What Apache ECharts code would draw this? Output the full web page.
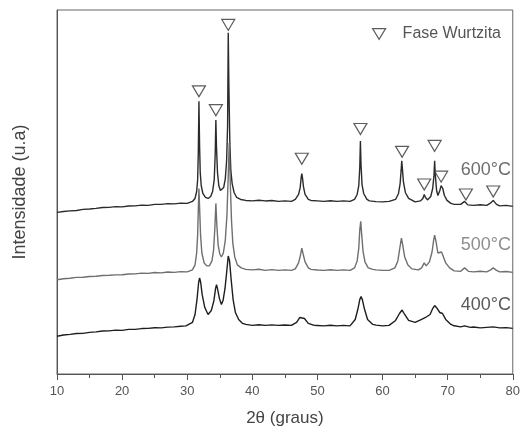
<!DOCTYPE html>
<html>
<head>
<meta charset="utf-8">
<script src="https://cdn.jsdelivr.net/npm/echarts@6/dist/echarts.min.js"></script>
<style>
  html, body { margin: 0; padding: 0; background: #fff; }
  #chart { width: 523px; height: 432px; }
</style>
</head>
<body>
<div id="chart"></div>
<script>
// difratogramas: [2θ, intensidade (u.a)]
const curve600 = [
  [10,163],[11,163.8],[12,164.5],[13,164.9],[14,166],[15,166.3],[16,167],[17,167.9],[18,168],[19,168.8],
  [20,168.5],[21,169.4],[22,169.5],[23,170.3],[24,170],[25,171],[26,171],[27,171.8],[28,171.5],[29,172.3],
  [30,172],[30.8,174],[31.2,177],[31.45,184],[31.6,196],[31.7,222],[31.8,275],[31.9,230],[32.0,203],
  [32.15,190],[32.4,182],[32.8,178],[33.2,177],[33.6,179],[33.9,184],[34.15,196],[34.3,222],[34.4,256],
  [34.5,228],[34.65,203],[34.85,190],[35.1,185],[35.35,184],[35.6,188],[35.85,197],[36.05,215],[36.2,250],
  [36.3,344],[36.4,290],[36.55,232],[36.7,205],[36.9,192],[37.2,183],[37.6,178],[38.2,176],[39,175],
  [40,174.5],[41,175.2],[42,174.5],[43,174.9],[44,174],[45,174.6],[46,174],[46.6,176],[47.1,181],[47.35,188],
  [47.5,198],[47.6,202],[47.7,198],[47.85,189],[48.1,181],[48.6,176],[49,175],[50,174.6],[51,174],[52,174.7],
  [53,174],[54,174.5],[55,174],[55.7,176],[56.1,181],[56.35,190],[56.5,208],[56.6,235],[56.7,210],[56.85,191],
  [57.1,182],[57.6,176],[58,174.5],[59,173.8],[60,173.5],[61,174],[62,176],[62.45,182],[62.7,192],[62.85,205],
  [62.95,215],[63.05,207],[63.2,194],[63.5,183],[64,177],[65,173.5],[65.8,174.5],[66.2,177],[66.4,181],
  [66.6,178],[66.9,175.5],[67.4,179],[67.7,187],[67.9,200],[68.0,215],[68.1,201],[68.3,185],[68.5,180],
  [68.8,185],[69.0,190],[69.1,191],[69.25,187],[69.5,180],[69.9,175],[70.5,172],[71,171],[72,171],
  [72.6,174],[73.1,170.5],[74,170],[75,170.6],[76,170],[76.5,172],[77.0,175],[77.5,171],[78,169.5],
  [79,170],[80,169]
];
const curve500 = [
  [10,95],[11,96],[12,96.5],[13,97.4],[14,97.5],[15,98.3],[16,98.5],[17,99.3],[18,99.5],[19,99.9],
  [20,100],[21,100.8],[22,101],[23,101.7],[24,101.5],[25,102.3],[26,102],[27,102.8],[28,102.5],[29,103.2],
  [30,103],[30.8,105],[31.2,110],[31.45,122],[31.6,140],[31.7,165],[31.8,187],[31.9,168],[32.05,140],
  [32.25,122],[32.6,112],[33.0,109],[33.4,109],[33.8,114],[34.05,125],[34.25,148],[34.4,172],[34.55,150],
  [34.75,130],[35.0,121],[35.25,118],[35.55,122],[35.85,135],[36.1,160],[36.3,200],[36.45,233],[36.6,195],
  [36.8,155],[37.0,132],[37.3,118],[37.7,110],[38.3,107],[39,105.5],[40,105],[41,105.6],[42,104.5],[43,105.2],
  [44,104.5],[45,105],[46,104.5],[46.6,106],[47.1,112],[47.4,120],[47.6,127],[47.8,121],[48.1,113],[48.6,107],
  [49,105.5],[50,104.9],[51,104.5],[52,105.1],[53,104.5],[54,105],[55,104.5],[55.7,107],[56.1,114],[56.35,127],
  [56.5,145],[56.65,154],[56.8,140],[57.0,124],[57.3,113],[57.8,107],[58.5,105.5],[59,105],[60,104.5],[61,104.5],
  [61.9,107],[62.35,114],[62.65,127],[62.9,137],[63.1,130],[63.4,118],[63.9,110],[64.5,106],[65.5,105],
  [66.0,107],[66.4,112],[66.7,109],[67.2,113],[67.6,123],[67.85,135],[68.0,140],[68.2,134],[68.5,122],
  [68.8,121],[69.05,123],[69.3,119],[69.7,112],[70.3,107],[71,104],[72,103.5],[72.6,107],[73.2,103.5],
  [74,103],[75,103.6],[76,103],[76.6,105],[77.0,107],[77.5,104.5],[78,103],[79,103.4],[80,102.5]
];
const curve400 = [
  [10,38],[11,39.3],[12,40],[13,40.8],[14,41],[15,42],[16,42.5],[17,43.4],[18,43.5],[19,44.2],
  [20,44],[21,45],[22,45],[23,45.8],[24,46],[25,46.7],[26,46.5],[27,47.3],[28,47.5],[29,48.2],
  [29.8,48.5],[30.8,52],[31.2,60],[31.5,75],[31.75,92],[31.9,97],[32.05,93],[32.3,80],[32.7,67],[33.2,60],
  [33.7,64],[34.1,74],[34.35,86],[34.5,90],[34.65,86],[34.95,76],[35.25,70],[35.5,74],[35.8,86],[36.05,102],
  [36.3,119],[36.5,114],[36.75,95],[37.05,75],[37.4,62],[37.9,55],[38.5,51],[39,50],[40,49],[41,49.6],
  [42,49],[43,49.5],[44,49],[45,49.4],[46,49],[46.8,52],[47.3,57],[47.6,59],[48.0,56],[48.6,51],[49.5,49],
  [50,48.9],[51,48.5],[52,49.1],[53,48.5],[54,49],[55,48.5],[55.8,55],[56.2,65],[56.5,75],[56.7,78],
  [56.9,75],[57.2,66],[57.7,55],[58.5,50],[59,49.3],[60,48.5],[61,49],[62,54],[62.6,61],[63.0,64.5],
  [63.4,60],[64,54],[65,52],[66,55],[66.6,57],[67.3,60],[67.7,66],[68.0,69],[68.4,66],[68.8,62],[69.2,61],
  [69.7,55],[70.5,50],[71,48.6],[72,47.5],[72.6,48.5],[73.5,47],[74,47.4],[75,46.5],[76,47],[77,47.5],
  [78,46.5],[79,46.8],[80,46]
];
// marcadores da fase wurtzita
const wurtzita = [
  [31.8,285],[34.4,266],[36.3,352],[47.6,217],[56.6,247],[63.0,224],
  [66.4,191],[68.0,230],[69.0,199],[72.8,181],[77.0,184]
];
const xTicks = [10, 20, 30, 40, 50, 60, 70, 80];
const tempLabels = ['600°C', '500°C', '400°C'];

const font = 'Liberation Sans, Arial, sans-serif';
const chart = echarts.init(document.getElementById('chart'));

const lineSeries = (data, color) => ({
  type: 'line',
  data: data,
  showSymbol: false,
  symbol: 'none',
  silent: true,
  lineStyle: { color: color, width: 1.4 },
  z: 2
});

chart.setOption({
  animation: false,
  backgroundColor: '#fff',
  textStyle: { fontFamily: font },
  grid: {
    left: 57, right: 7, top: 10, bottom: 55,
    show: true, borderColor: '#666', borderWidth: 1
  },
  legend: {
    data: [{ name: 'Fase Wurtzita', icon: 'path://M0,0L12,0L6,10Z' }],
    right: 17, top: 21,
    itemWidth: 13, itemHeight: 11,
    itemStyle: { color: '#fff', borderColor: '#333', borderWidth: 1.2 },
    textStyle: { fontSize: 16, color: '#555', padding: [0, 0, 0, 12] }
  },
  xAxis: {
    type: 'value',
    min: 10, max: 80, interval: 10,
    name: '2θ (graus)',
    nameLocation: 'middle',
    nameGap: 36,
    nameTextStyle: { fontSize: 17, color: '#444' },
    axisLine: { lineStyle: { color: '#555' } },
    axisTick: { length: 6, lineStyle: { color: '#555' } },
    minorTick: { show: true, splitNumber: 2, length: 4, lineStyle: { color: '#555' } },
    axisLabel: {
      margin: 11, fontSize: 13, color: '#555',
      formatter: v => xTicks.includes(v) ? String(v) : ''
    },
    splitLine: { show: false }
  },
  yAxis: {
    type: 'value',
    min: 0, max: 367,
    name: 'Intensidade (u.a)',
    nameLocation: 'middle',
    nameGap: 28,
    nameTextStyle: { fontSize: 18, color: '#444' },
    axisLine: { show: true, lineStyle: { color: '#555' } },
    axisTick: { show: false },
    axisLabel: { show: false },
    splitLine: { show: false }
  },
  graphic: [
    { type: 'text', right: 12, top: 161, style: { text: tempLabels[0], fontSize: 18, fill: '#6e6e6e', fontFamily: font } },
    { type: 'text', right: 12, top: 236, style: { text: tempLabels[1], fontSize: 18, fill: '#8f8f8f', fontFamily: font } },
    { type: 'text', right: 12, top: 296, style: { text: tempLabels[2], fontSize: 18, fill: '#5a5a5a', fontFamily: font } }
  ],
  series: [
    lineSeries(curve600, '#2b2b2b'),
    lineSeries(curve500, '#6f6f6f'),
    lineSeries(curve400, '#1e1e1e'),
    {
      name: 'Fase Wurtzita',
      type: 'scatter',
      data: wurtzita,
      symbol: 'triangle',
      symbolRotate: 180,
      symbolSize: [13, 11],
      itemStyle: { color: '#fff', borderColor: '#333', borderWidth: 1.2 },
      z: 3
    }
  ]
});
</script>
</body>
</html>
